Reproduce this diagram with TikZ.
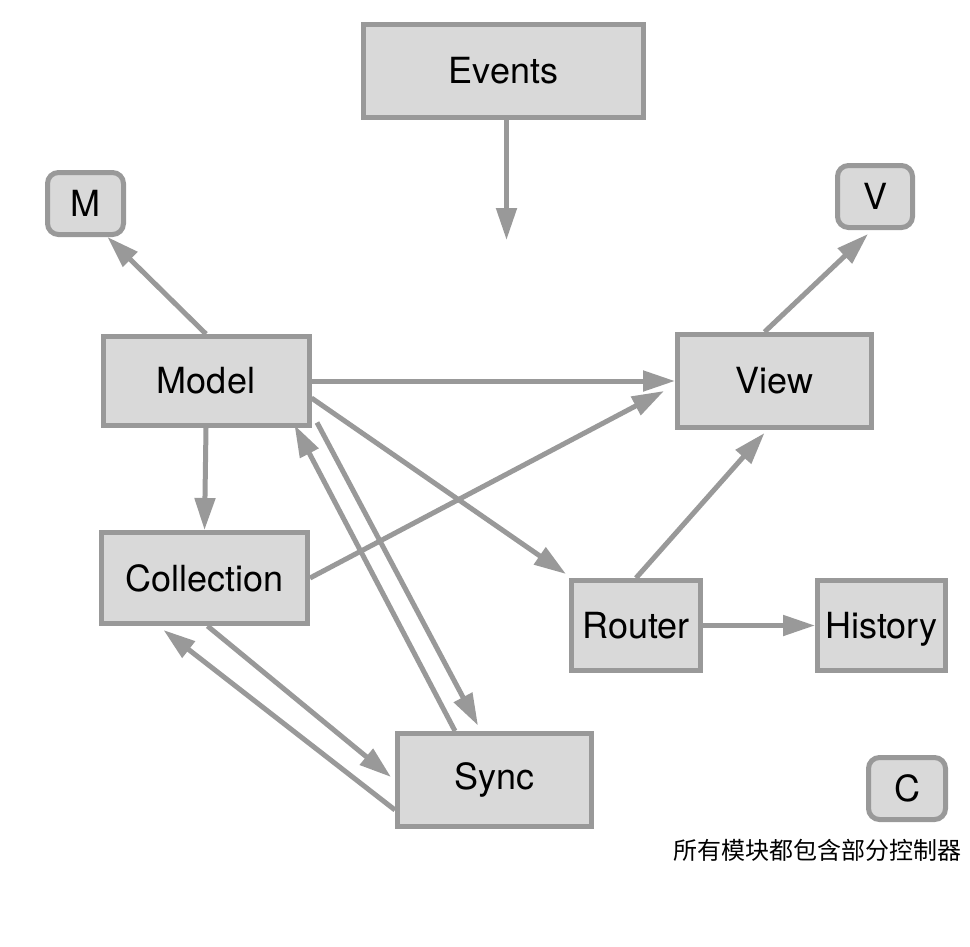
\documentclass[tikz,border=0pt]{standalone}
\usepackage{fontspec}
\setmainfont{TeX Gyre Heros}
\newfontfamily\cjk{Noto Sans CJK SC}
\usetikzlibrary{arrows.meta}
\definecolor{bordergray}{HTML}{999999}
\definecolor{fillgray}{HTML}{D9D9D9}
\tikzset{
  box/.style={draw=bordergray, fill=fillgray, line width=5pt, inner sep=0pt,
    font=\fontsize{36}{42}\selectfont, text=black},
  rbox/.style={box, rounded corners=11pt},
  conn/.style={draw=bordergray, line width=5pt,
    -{Triangle[length=32pt,width=20pt]}},
}
\begin{document}
\begin{tikzpicture}[x=1pt,y=-1pt]
\useasboundingbox (0,0) rectangle (970,946);
\fill[white] (0,0) rectangle (970,946);
\node[box, minimum width=280pt, minimum height=93pt] (events) at (503.5,71) {Events};
\node[rbox, minimum width=76pt, minimum height=62pt] (m) at (85.5,203.5) {M};
\node[rbox, minimum width=75pt, minimum height=62pt] (v) at (875,196.5) {V};
\node[box, minimum width=206pt, minimum height=89pt] (model) at (206,381) {Model};
\node[box, minimum width=194pt, minimum height=93pt] (view) at (774.5,381) {View};
\node[box, minimum width=206pt, minimum height=91pt] (coll) at (204.5,578) {Collection};
\node[box, minimum width=129pt, minimum height=90pt] (router) at (636,625.5) {Router};
\node[box, minimum width=128pt, minimum height=90pt, text depth=0pt] (history) at (881.5,625.5) {History};
\node[box, minimum width=194pt, minimum height=93pt] (sync) at (494.5,780) {Sync};
\node[rbox, minimum width=77pt, minimum height=62pt] (c) at (907,788.5) {C};
\node[font=\cjk\fontsize{24}{29}\selectfont, inner sep=0pt] (note) at (817,850) {所有模块都包含部分控制器};
\coordinate (evt) at (506.5,240);

\draw[conn] ([xshift=3pt]events.south) -- (evt);
\draw[conn] (model.north) -- ([xshift=22pt]m.south);
\draw[conn] (model.east) -- (view.west);
\draw[conn] (model.south) -- (coll.north);
\draw[conn] ([yshift=-17pt]model.east) -- ([xshift=-3pt,yshift=4pt]router.north west);
\draw[conn] (coll.east) -- ([xshift=-11pt,yshift=-10pt]view.west);
\draw[conn] (router.north) -- ([xshift=-10pt,yshift=-3pt]view.south);
\draw[conn] (router.east) -- (history.west);
\draw[conn] ([xshift=-10pt]view.north) -- ([xshift=-7pt,yshift=-4pt]v.south);
\draw[conn] ([xshift=-39.5pt]sync.north) -- ([xshift=-17pt,yshift=3pt]model.south east);
\draw[conn] ([xshift=5.5pt,yshift=5.5pt]model.south east) -- ([xshift=-16.5pt,yshift=5.5pt]sync.north);
\draw[conn] ([xshift=3pt]coll.south) -- ([xshift=-4pt,yshift=3pt]sync.west);
\draw[conn] ([yshift=-30pt]sync.west) -- ([xshift=-41pt,yshift=-4pt]coll.south);
\end{tikzpicture}
\end{document}
